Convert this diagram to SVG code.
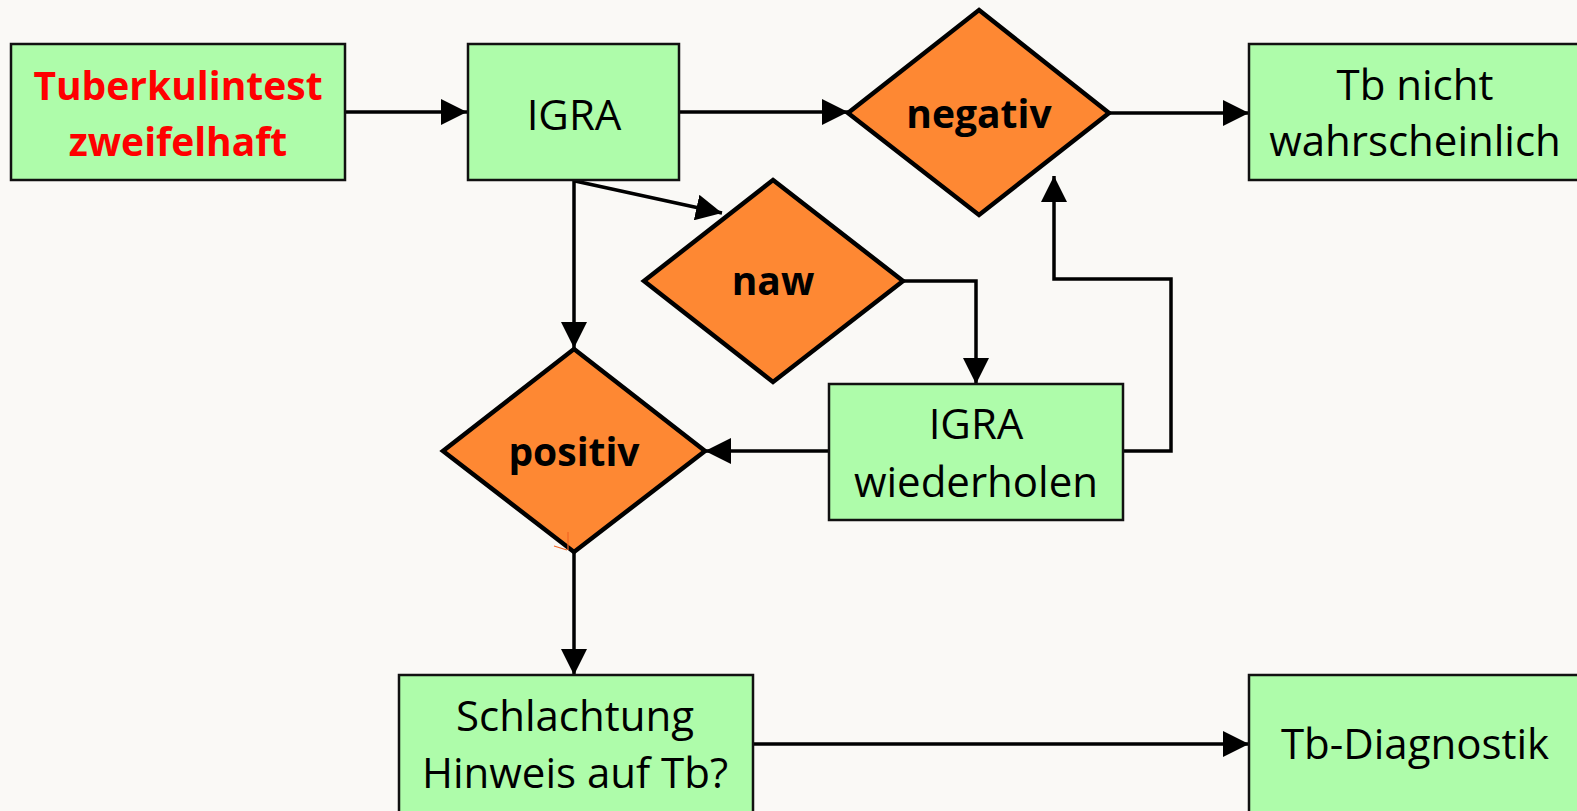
<svg xmlns="http://www.w3.org/2000/svg" width="1577" height="811" viewBox="0 0 1577 811">
<defs>
<style>
.box{fill:#AEFCAA;stroke:#111;stroke-width:2.5}
.dia{fill:#FE8833;stroke:#000;stroke-width:4.5;stroke-linejoin:miter}
.t{font-family:"Open Sans","Liberation Sans",sans-serif;font-size:42px;fill:#000;text-anchor:middle}
.b{font-family:"Open Sans","Liberation Sans",sans-serif;font-size:39px;font-weight:bold;fill:#000;text-anchor:middle}
.red{fill:#FF0000}
.c{fill:none;stroke:#000;stroke-width:3.5;marker-end:url(#ah)}
</style>
<marker id="ah" markerUnits="userSpaceOnUse" markerWidth="26" markerHeight="26" refX="26" refY="13" orient="auto">
<path d="M0,0 L26,13 L0,26 Z" fill="#000"/>
</marker>
</defs>
<rect width="1577" height="811" fill="#FAF9F6"/>
<g id="connectors">
<path class="c" d="M345,112 L467,112"/>
<path class="c" d="M680,112 L848,112"/>
<path class="c" d="M1109,113 L1249,113"/>
<path class="c" d="M574,181 L574,348"/>
<path class="c" d="M575,181 L722,213"/>
<path class="c" d="M903,281 L976,281 L976,384"/>
<path class="c" d="M1123,451 L1171,451 L1171,279 L1054,279 L1054,176"/>
<path class="c" d="M829,451 L705,451"/>
<path class="c" d="M574,552 L574,675"/>
<path class="c" d="M753,744 L1249,744"/>
</g>
<g id="n-tuberkulin">
<rect class="box" x="11" y="44" width="334" height="136"/>
<text class="b red" x="178" y="100">Tuberkulintest</text>
<text class="b red" x="178" y="156">zweifelhaft</text>
</g>
<g id="n-igra">
<rect class="box" x="468" y="44" width="211" height="136"/>
<text class="t" x="574" y="130">IGRA</text>
</g>
<g id="n-negativ">
<polygon class="dia" points="979,10 1109,113 979,215 848,113"/>
<text class="b" x="979" y="128">negativ</text>
</g>
<g id="n-tbnicht">
<rect class="box" x="1249" y="44" width="340" height="136"/>
<text class="t" x="1415" y="100">Tb nicht</text>
<text class="t" x="1415" y="156">wahrscheinlich</text>
</g>
<g id="n-naw">
<polygon class="dia" points="773,180 903,281 773,382 644,281"/>
<text class="b" x="773" y="295">naw</text>
</g>
<g id="n-positiv">
<polygon class="dia" points="574,349 705,451 574,552 443,451"/>
<text class="b" x="574" y="466">positiv</text>
<path d="M554,546 L567,550 M568,532 L568,550" stroke="#F26522" stroke-width="1.2" fill="none"/>
</g>
<g id="n-igra2">
<rect class="box" x="829" y="384" width="294" height="136"/>
<text class="t" x="976" y="439">IGRA</text>
<text class="t" x="976" y="497">wiederholen</text>
</g>
<g id="n-schlachtung">
<rect class="box" x="399" y="675" width="354" height="140"/>
<text class="t" x="575" y="731">Schlachtung</text>
<text class="t" x="575" y="788">Hinweis auf Tb?</text>
</g>
<g id="n-diagnostik">
<rect class="box" x="1249" y="675" width="340" height="140"/>
<text class="t" x="1415" y="759">Tb-Diagnostik</text>
</g>
</svg>
